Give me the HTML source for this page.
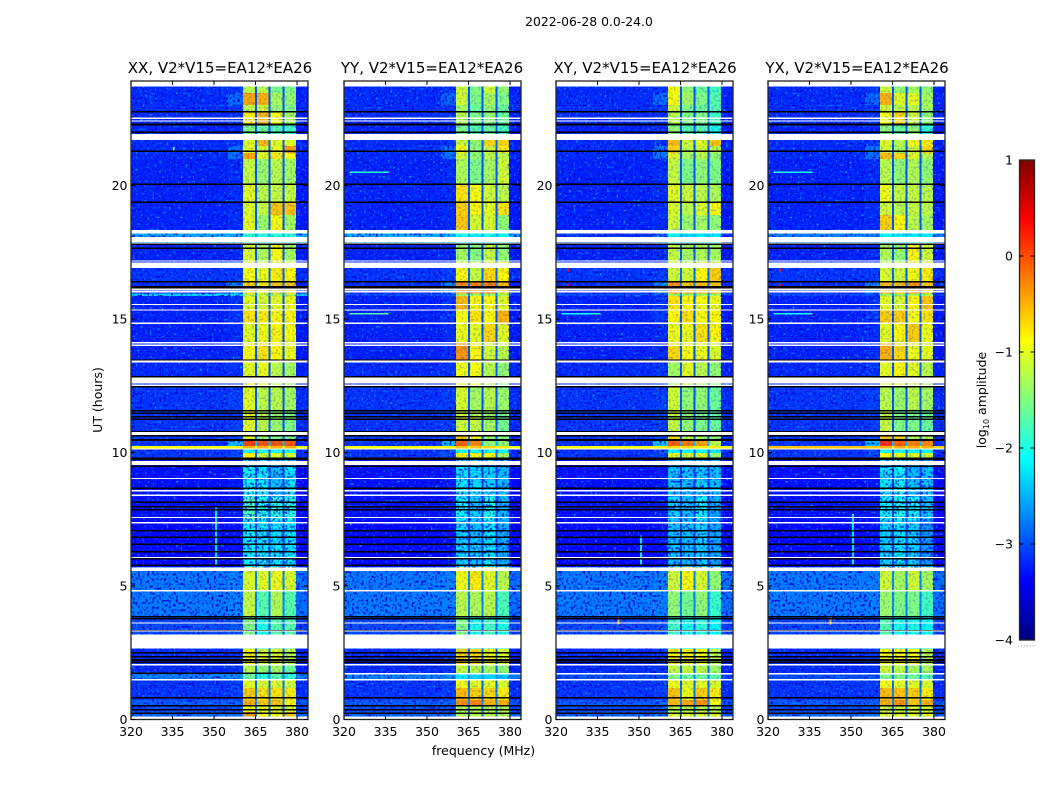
<!DOCTYPE html>
<html lang="en">
<head>
<meta charset="utf-8">
<title>2022-06-28 amplitude waterfall</title>
<style>
html,body{margin:0;padding:0;background:#fff;}
svg{display:block;}
text{font-family:"DejaVu Sans","Liberation Sans",sans-serif;fill:#000;}
</style>
</head>
<body>
<svg id="figure" xmlns="http://www.w3.org/2000/svg" width="1050" height="800" viewBox="0 0 1050 800">
  <defs>
    <filter id="speckle-dark" x="0" y="0" width="100%" height="100%" color-interpolation-filters="sRGB">
      <feTurbulence type="fractalNoise" baseFrequency="0.42" numOctaves="1" seed="4"/>
      <feColorMatrix type="matrix" values="0 0 0 0 0  0 0 0 0 0.04  0 0 0 0 0.85  5 0 0 0 -2.45"/>
    </filter>
    <filter id="speckle-light" x="0" y="0" width="100%" height="100%" color-interpolation-filters="sRGB">
      <feTurbulence type="fractalNoise" baseFrequency="0.42" numOctaves="1" seed="11"/>
      <feColorMatrix type="matrix" values="0 0 0 0 0  0 0 0 0 0.62  0 0 0 0 1  0 5 0 0 -3.0"/>
    </filter>
  </defs>
  <rect x="0" y="0" width="1050" height="800" fill="#fff"/>
  <text x="589" y="26" text-anchor="middle" font-size="12.4">2022-06-28 0.0-24.0</text>
  <text x="220" y="73" text-anchor="middle" font-size="15">XX, V2*V15=EA12*EA26</text>
  <text x="432" y="73" text-anchor="middle" font-size="15">YY, V2*V15=EA12*EA26</text>
  <text x="645" y="73" text-anchor="middle" font-size="15">XY, V2*V15=EA12*EA26</text>
  <text x="857" y="73" text-anchor="middle" font-size="15">YX, V2*V15=EA12*EA26</text>
  <text transform="translate(102,400) rotate(-90)" text-anchor="middle" font-size="12.5">UT (hours)</text>
  <text x="483.500" y="755" text-anchor="middle" font-size="12.5">frequency (MHz)</text>
  <g id="panel-xx"></g>
  <g id="panel-yy"></g>
  <g id="panel-xy"></g>
  <g id="panel-yx"></g>
  <g id="colorbar"></g>
  <text transform="translate(986,400) rotate(-90)" text-anchor="middle" font-size="12.500">log<tspan font-size="8" dy="3">10</tspan><tspan dy="-3"> amplitude</tspan></text>
  <line x1="1018" y1="646" x2="1035" y2="646" stroke="#999" stroke-width="1" stroke-dasharray="1 2"/>
</svg>
<script>
// Axis ticks
const xTicks = [320, 335, 350, 365, 380];
const yTicks = [0, 5, 10, 15, 20];
const cbarTicks = [1, 0, -1, -2, -3, -4];

// Frequency bands (MHz)
const bandEdges = [[360.4, 364.8], [365.5, 369.7], [370.4, 374.7], [375.5, 379.6]];

// UT (hours) at the top of each time row, top of plot to bottom
const rowTops = [23.70,23.46,23.01,22.75,22.27,21.70,21.48,21.22,20.99,20.02,19.34,18.90,18.33,17.85,17.13,16.39,15.96,15.86,15.34,14.85,14.14,13.46,12.49,11.59,10.77,10.45,10.24,10.13,9.98,9.79,8.33,7.47,5.71,4.85,3.84,2.64,2.04,1.74,1.48,1.18,0.73,0.51,0.28];

// log10 amplitude: shared background, near-band shoulder and band-gap level per row
const bgLevels = [-3.15,-3.15,-3.15,-3.15,-3.2,-3.15,-3.15,-3.15,-3.2,-3.2,-3.2,-3.2,-2.5,-3.2,-3.1,-3.15,-3.0,-3.2,-3.2,-3.2,-3.2,-3.15,-3.1,-3.1,-3.1,-3.1,-0.9,-3.1,-3.1,-3.3,-3.3,-3.35,-2.75,-2.75,-3.0,-3.15,-3.15,-2.7,-3.1,-3.1,-2.9,-3.0,-2.85];
const nearLevels = [-3.1,-2.85,-3.1,-3.1,-3.15,-3.1,-2.8,-2.8,-3.15,-3.15,-3.15,-3.15,-2.45,-3.15,-3.05,-2.7,-2.9,-3.1,-3.1,-3.15,-3.15,-3.1,-3.05,-3.05,-3.0,-2.4,-0.85,-3.0,-3.0,-3.25,-3.25,-3.3,-2.72,-2.72,-2.95,-3.1,-3.1,-2.65,-3.05,-3.05,-2.85,-2.95,-2.8];
const gapLevels = [-2.95,-2.95,-2.95,-2.95,-2.95,-2.85,-2.95,-2.95,-2.95,-2.95,-2.95,-2.95,-2.5,-2.95,-2.85,-2.75,-2.6,-2.95,-2.95,-2.95,-2.95,-2.95,-2.95,-2.95,-2.85,-2.4,-1.0,-2.95,-2.85,-3.1,-3.05,-3.1,-2.7,-2.7,-2.95,-2.85,-2.85,-2.6,-2.85,-2.75,-2.65,-2.85,-2.75];

// log10 amplitude of the four bands per row; optional fifth value overrides the background
const xxBands = [[-1.2,-1.2,-1.5,-1.5],[-.45,-.5,-1.3,-1.4],[-1.2,-1.1,-1.4,-1.5],[-.8,-.55,-.9,-1.3],[-1.5,-1.6,-1.7,-1.8],[-1.0,-.55,-1.0,-1.0],[-1.0,-1.1,-1.0,-.4],[-.45,-1.0,-.8,-.9],[-1.15,-1.35,-1.2,-1.3],[-1.0,-1.2,-1.15,-1.15],[-1.05,-1.15,-.6,-.6],[-1.0,-1.35,-.9,-1.3],[-1.9,-1.9,-1.9,-1.9],[-1.05,-1.25,-.9,-1.3],[-.9,-.95,-.8,-.85],[-.65,-.8,-.6,-.6],[-1.2,-1.2,-1.2,-1.2,-2.3],[-1.0,-1.05,-1.0,-.95],[-.75,-.8,-.85,-.85],[-1.0,-.95,-.85,-.9],[-.9,-.75,-.85,-.95],[-1.0,-.95,-1.2,-1.3],[-1.0,-1.2,-1.2,-1.3],[-1.0,-1.2,-1.35,-1.5],[-1.0,-1.3,-1.5,-1.5],[.05,-.05,-.05,-.05],[-.5,-.5,-.5,-.5],[-2.0,-2.0,-2.0,-2.0],[-.85,-1.1,-1.0,-1.1],[-2.1,-2.2,-2.4,-2.2],[-1.75,-2.0,-1.95,-1.95],[-2.1,-2.2,-2.2,-2.2],[-1.05,-1.0,-.95,-1.05],[-1.15,-1.7,-1.25,-1.7],[-1.5,-2.0,-1.7,-1.7],[-.85,-1.05,-1.0,-1.2],[-1.2,-1.4,-1.3,-1.6],[-1.6,-1.9,-1.7,-1.9],[-1.0,-1.05,-1.05,-1.1],[-.65,-.75,-.75,-.8],[-.5,-.6,-.6,-.85],[-.9,-1.0,-1.0,-1.0],[-.4,-.9,-.9,-.6]];
const yyBands = [[-1.1,-1.5,-1.1,-1.4],[-1.1,-1.5,-1.3,-1.5],[-1.3,-1.6,-1.4,-1.6],[-1.2,-1.5,-1.4,-1.6],[-1.5,-1.7,-1.6,-1.8],[-1.1,-1.4,-.7,-.7],[-.9,-1.4,-1.1,-.8],[-1.1,-1.4,-1.2,-1.2],[-1.25,-1.5,-1.3,-1.1],[-.75,-.9,-1.1,-1.2],[-.65,-.85,-1.0,-.75],[-.6,-1.05,-1.05,-1.4],[-2.0,-2.1,-2.0,-2.1],[-1.3,-1.45,-1.15,-1.4],[-.85,-1.15,-.7,-.85],[-.3,-.3,-.25,-.55],[-1.3,-1.3,-1.3,-1.3],[-.55,-.85,-.85,-1.0],[-.9,-.75,-.85,-.5],[-.95,-1.0,-.7,-1.0],[-.35,-.85,-1.1,-1.2],[-.95,-.9,-1.2,-1.4],[-1.05,-1.3,-1.2,-1.35],[-1.1,-1.15,-1.3,-1.55],[-.6,-.9,-1.4,-1.5],[-.1,-.3,-1.4,-1.4],[-.6,-.6,-.7,-.8],[-2.0,-2.0,-2.0,-2.1],[-.85,-.9,-.9,-1.3],[-2.2,-2.25,-2.3,-2.4],[-2.1,-2.35,-2.0,-2.4],[-2.3,-2.4,-2.2,-2.5],[-.95,-.8,-1.0,-1.2],[-1.2,-1.25,-1.2,-1.75],[-1.5,-2.0,-1.8,-2.0],[-.7,-.7,-.9,-1.05],[-1.15,-1.2,-1.3,-1.4],[-2.2,-2.3,-2.3,-2.4],[-.9,-1.0,-1.0,-1.05],[-.55,-.65,-.7,-.8],[-.35,-.25,-.5,-.5],[-1.25,-1.25,-1.25,-1.25],[-1.2,-1.2,-1.2,-1.2]];
const xyBands = [[-.9,-1.4,-1.6,-1.8],[-.9,-1.3,-1.5,-1.7],[-1.1,-1.5,-1.6,-1.7],[-1.2,-1.5,-1.5,-1.8],[-1.4,-1.7,-1.7,-2.0],[-.55,-1.1,-1.0,-.6],[-.7,-1.2,-1.1,-1.2],[-1.0,-1.3,-1.2,-1.4],[-1.15,-1.5,-1.4,-1.5],[-1.0,-1.1,-1.2,-1.25],[-1.05,-1.2,-1.05,-.9],[-1.1,-1.35,-1.3,-1.4],[-2.1,-2.3,-2.2,-2.2,-3.1],[-1.15,-1.3,-1.25,-1.3],[-1.1,-1.1,-.85,-.65],[-.35,-.6,-.55,-.6],[-1.3,-1.3,-1.3,-1.3],[-.75,-.85,-.9,-.95],[-.85,-.75,-.9,-.85],[-.95,-.95,-.75,-.85],[-.7,-.9,-.95,-1.05],[-1.3,-1.0,-1.2,-1.4],[-1.1,-1.4,-1.4,-1.6],[-1.15,-1.4,-1.5,-1.6],[-.7,-1.2,-1.3,-1.4],[-.1,-.25,-.4,-1.2],[-.7,-.7,-.8,-.8],[-2.1,-2.1,-2.1,-2.2],[-1.0,-1.1,-1.0,-1.4],[-2.4,-2.4,-2.3,-2.4],[-2.3,-2.4,-2.1,-2.5],[-2.4,-2.4,-2.3,-2.5],[-1.1,-.85,-1.05,-1.4],[-1.4,-1.55,-1.4,-1.85],[-1.8,-2.0,-1.9,-2.1],[-.8,-.85,-.9,-1.2],[-1.15,-1.15,-1.2,-1.35],[-1.5,-1.6,-1.6,-1.7,-2.95],[-.95,-1.0,-1.0,-1.05],[-.6,-.95,-.65,-.8],[-.55,-.45,-.35,-.9],[-1.2,-1.2,-1.2,-1.2],[-1.0,-1.0,-1.0,-1.0]];
const yxBands = [[-1.1,-1.4,-1.3,-1.4],[-.5,-1.0,-1.0,-1.3],[-1.1,-1.2,-1.2,-1.3],[-.9,-.7,-1.1,-1.4],[-1.4,-1.6,-1.4,-1.9],[-1.0,-1.2,-.9,-.8],[-1.1,-1.3,-1.1,-.7],[-.55,-.7,-1.0,-1.2],[-1.2,-1.4,-1.25,-1.4],[-.95,-1.15,-1.15,-1.2],[-1.1,-1.2,-1.15,-1.2],[-.65,-.85,-1.2,-1.3],[-2.1,-2.2,-2.2,-2.2,-2.7],[-1.25,-1.4,-.85,-1.1],[-1.05,-1.1,-.9,-.8],[-.55,-.55,-.35,-.6],[-1.3,-1.3,-1.3,-1.3,-3.0],[-1.0,-1.05,-.85,-.6],[-.65,-.65,-.9,-.75],[-1.0,-.85,-.65,-.95],[-.5,-.7,-.95,-1.0],[-1.0,-.85,-1.0,-1.2],[-1.2,-1.35,-1.2,-1.3],[-1.15,-1.5,-1.5,-1.6],[-.6,-.7,-1.2,-1.2],[.15,-.1,-.25,-.3],[-.5,-.5,-.5,-.5,-.6],[-2.0,-2.0,-2.1,-2.1],[-.9,-1.0,-1.0,-1.1],[-2.2,-2.1,-2.4,-2.4],[-2.1,-2.0,-2.1,-2.4],[-2.3,-2.2,-2.3,-2.6],[-1.1,-1.3,-1.1,-1.3],[-1.35,-1.5,-1.5,-1.8],[-1.7,-2.0,-2.0,-2.1],[-.85,-.9,-.9,-1.2],[-1.1,-1.2,-1.3,-1.3],[-1.5,-1.5,-1.6,-1.7,-2.95],[-.9,-1.0,-1.0,-1.05],[-.55,-.6,-.65,-.8],[-.5,-.35,-.6,-.5],[-1.1,-1.1,-1.1,-1.1],[-1.0,-1.0,-1.0,-1.0]];

// Flagged time ranges shared by all panels (hours)
const whiteFlags = [[23.91,23.70],[22.54,22.49],[22.44,22.39],[21.93,21.70],[18.33,18.21],[18.08,17.88],[17.87,17.82],[17.20,17.15],[17.11,16.91],[16.14,16.09],[16.07,16.00],[15.57,15.52],[15.36,15.31],[14.86,14.81],[14.14,14.09],[14.04,13.99],[13.44,13.37],[12.80,12.59],[12.55,12.50],[10.77,10.66],[10.15,10.11],[9.69,9.53],[9.05,9.00],[8.59,8.54],[8.43,8.38],[7.59,7.54],[7.40,7.35],[6.09,6.04],[5.69,5.56],[4.85,4.80],[3.64,3.59],[3.34,3.29],[3.18,2.65],[2.08,2.03],[1.74,1.69],[1.51,1.46],[0.11,0]];
const blackLines = [22.76,22.30,22.27,21.99,21.28,20.04,19.37,17.81,17.65,16.40,16.21,16.18,13.45,12.84,12.47,11.57,11.47,11.34,11.25,10.78,10.63,10.47,9.78,9.74,9.48,8.66,8.13,7.97,7.85,7.07,6.82,6.56,6.28,6.02,5.78,3.85,3.78,3.33,2.50,2.35,2.23,2.14,0.82,0.52,0.36,0.23];
const xxExtraBlack = [1.73];

// Narrowband features: panel, start MHz, end MHz, top hour, bottom hour, log10 amplitude
const spurPanels = [0,1,1,2,3,3,2,3,2,3,0,2,3,2,3,0];
const spurStartMHz = [350.3,322,322,322,322,322,324,324,324,324,350.3,350.3,350.3,342.2,342.2,335.2];
const spurEndMHz = [351,336,336,336,336,336,324.7,324.7,324.7,324.7,351,351,351,342.9,342.9,335.8];
const spurTopHours = [8,20.53,15.22,15.22,20.53,15.22,16.9,16.9,16.32,16.32,8,6.9,7.7,3.85,3.85,21.45];
const spurBottomHours = [5.8,20.47,15.16,15.16,20.47,15.16,16.78,16.78,16.2,16.2,5.8,5.8,5.8,3.55,3.55,21.3];
const spurLevels = [-2.2,-1.9,-1.7,-2.0,-2.0,-2.0,.3,.3,.3,.3,-2.2,-2.2,-2.2,-.5,-.5,-1.5];

const panelKeys = ['xx', 'yy', 'xy', 'yx'];
const panelBands = [xxBands, yyBands, xyBands, yxBands];
const panelLeft = [131, 344, 556, 768];
const plotWidth = 177;
const plotTop = 81;
const plotBottom = 719.5;
const mhzMin = 320;
const mhzPerPixel = 1 / 2.767;
const lineRow = 26;
const quietRowTop = 29;
const quietRowEnd = 32;
const SVG_NS = 'http://www.w3.org/2000/svg';

function yScale(hour) {
  return 719.5 - 26.7 * hour;
}
function xScale(mhz, left) {
  return left + (mhz - mhzMin) / mhzPerPixel;
}
function clip01(v) {
  return Math.max(0, Math.min(1, v));
}
function jet(level) {
  const v = (level + 4) / 5;
  const r = clip01(Math.min(4 * v - 1.5, -4 * v + 4.5));
  const g = clip01(Math.min(4 * v - 0.5, -4 * v + 3.5));
  const b = clip01(Math.min(4 * v + 0.5, -4 * v + 2.5));
  return 'rgb(' + Math.round(r * 255) + ',' + Math.round(g * 255) + ',' + Math.round(b * 255) + ')';
}
function makeRect(parent, x, y, w, h, fill) {
  const el = document.createElementNS(SVG_NS, 'rect');
  el.setAttribute('x', x.toFixed(2));
  el.setAttribute('y', y.toFixed(2));
  el.setAttribute('width', w.toFixed(2));
  el.setAttribute('height', h.toFixed(2));
  el.setAttribute('fill', fill);
  el.setAttribute('shape-rendering', 'crispEdges');
  parent.appendChild(el);
  return el;
}
function makeLine(parent, x1, y1, x2, y2, width) {
  const el = document.createElementNS(SVG_NS, 'line');
  el.setAttribute('x1', x1);
  el.setAttribute('y1', y1);
  el.setAttribute('x2', x2);
  el.setAttribute('y2', y2);
  el.setAttribute('stroke', '#000');
  el.setAttribute('stroke-width', width);
  parent.appendChild(el);
  return el;
}
function makeText(parent, x, y, anchor, content) {
  const el = document.createElementNS(SVG_NS, 'text');
  el.setAttribute('x', x);
  el.setAttribute('y', y);
  el.setAttribute('text-anchor', anchor);
  el.setAttribute('font-size', '12.5');
  el.textContent = content;
  parent.appendChild(el);
  return el;
}

function drawCell(group, left, f0, f1, top, bottom, level) {
  const x0 = xScale(f0, left);
  const x1 = xScale(f1, left);
  const y0 = yScale(top);
  const y1 = yScale(bottom);
  const cell = makeRect(group, x0, y0, x1 - x0, y1 - y0, jet(level));
  
  
}

function drawTexture(root, key, x, y, w, h, opacity) {
  const dark = makeRect(root, x, y, w, h, '#000');
  dark.setAttribute('filter', 'url(#speckle-dark)');
  dark.setAttribute('opacity', opacity);
  
  
  const light = makeRect(root, x, y, w, h, '#000');
  light.setAttribute('filter', 'url(#speckle-light)');
  light.setAttribute('opacity', opacity);
  
  
}

function drawRow(group, left, bands, r) {
  const top = rowTops[r];
  const bottom = r + 1 < rowTops.length ? rowTops[r + 1] : 0;
  const row = bands[r];
  const bg = row.length > 4 ? row[4] : bgLevels[r];
  const near = row.length > 4 ? Math.max(row[4], nearLevels[r] - 0.4) : nearLevels[r];
  const gap = gapLevels[r];
  drawCell(group, left, 320, 355, top, bottom, bg);
  drawCell(group, left, 355, bandEdges[0][0], top, bottom, near);
  bandEdges.forEach(function (edge, b) {
    drawCell(group, left, edge[0], edge[1], top, bottom, row[b]);
    if (b < 3) {
      drawCell(group, left, edge[1], bandEdges[b + 1][0], top, bottom, gap);
    }
  });
  drawCell(group, left, bandEdges[3][1], 384, top, bottom, bg - 0.05);
}

function drawPanel(index) {
  const left = panelLeft[index];
  const key = panelKeys[index];
  const bands = panelBands[index];
  const root = document.getElementById('panel-' + key);

  const cells = document.createElementNS(SVG_NS, 'g');
  
  
  root.appendChild(cells);

  rowTops.forEach(function (top, r) {
    drawRow(cells, left, bands, r);
  });

  const topY = yScale(rowTops[0]);
  const h = plotBottom - topY;
  const bandStart = xScale(bandEdges[0][0], left);
  const bandEnd = xScale(bandEdges[3][1], left);
  drawTexture(root, key, left, topY, bandStart - left, h, 1);
  drawTexture(root, key, bandStart, topY, bandEnd - bandStart, h, 0.22);
  drawTexture(root, key, bandEnd, topY, left + plotWidth - bandEnd, h, 1);
  const quietTop = yScale(rowTops[quietRowTop]);
  const quietBottom = yScale(rowTops[quietRowEnd]);
  drawTexture(root, key, bandStart, quietTop, bandEnd - bandStart, quietBottom - quietTop, 0.75);

  drawRow(root, left, bands, lineRow);

  spurPanels.forEach(function (p, i) {
    if (p !== index) return;
    drawCell(root, left, spurStartMHz[i], spurEndMHz[i], spurTopHours[i], spurBottomHours[i], spurLevels[i]);
  });

  blackLines.forEach(function (hour) {
    const line = makeRect(root, left, yScale(hour) - 0.8, plotWidth, 1.6, '#000');
    
    
  });
  if (index === 0) {
    xxExtraBlack.forEach(function (hour) {
      const extra = makeRect(root, left, yScale(hour) - 0.8, plotWidth, 1.6, '#000');
      
      
    });
  }
  whiteFlags.forEach(function (range) {
    if (index === 0 && range[0] === 1.74) return;
    const y0 = Math.max(yScale(range[0]), plotTop);
    const y1 = Math.min(yScale(range[1]), plotBottom);
    const flag = makeRect(root, left, y0, plotWidth, y1 - y0, '#fff');
    
    
  });

  const frame = makeRect(root, left, plotTop, plotWidth, plotBottom - plotTop, 'none');
  frame.setAttribute('stroke', '#222');
  frame.setAttribute('stroke-width', '1.3');
  frame.removeAttribute('shape-rendering');
  
  

  xTicks.forEach(function (tick) {
    const x = xScale(tick, left);
    const t1 = makeLine(root, x, plotBottom, x, plotBottom - 4, 1);
    
    
    const t2 = makeLine(root, x, plotTop, x, plotTop + 4, 1);
    
    
    const label = makeText(root, x, 736, 'middle', String(tick));
    
    
  });
  yTicks.forEach(function (tick) {
    const y = yScale(tick);
    const t1 = makeLine(root, left, y, left + 4, y, 1);
    
    
    const t2 = makeLine(root, left + plotWidth, y, left + plotWidth - 4, y, 1);
    
    
    const label = makeText(root, left - 3.5, y + 4.5, 'end', String(tick));
    
    
  });
}

function drawColorbar() {
  const root = document.getElementById('colorbar');
  const x = 1019.5;
  const w = 15;
  const top = 160;
  const height = 480;
  function levelY(level) {
    return top + (1 - level) / 5 * height;
  }
  for (let y = 0; y < height; y += 2) {
    const level = 1 - (y + 1) / height * 5;
    const seg = makeRect(root, x, top + y, w, 2.2, jet(level));
    
    
  }
  const frame = makeRect(root, x, top, w, height, 'none');
  frame.setAttribute('stroke', '#222');
  frame.setAttribute('stroke-width', '1.3');
  frame.removeAttribute('shape-rendering');
  
  
  cbarTicks.forEach(function (tick) {
    const y = levelY(tick);
    if (tick !== 1 && tick !== -4) {
      const left = makeLine(root, x, y, x + 4, y, 1);
      
      
      const right = makeLine(root, x + w, y, x + w - 4, y, 1);
      
      
    }
    const text = tick < 0 ? '\u2212' + Math.abs(tick) : String(tick);
    const label = makeText(root, 1013, y + 4.5, 'end', text);
    
    
  });
}

panelKeys.forEach(function (key, index) {
  drawPanel(index);
});
drawColorbar();
</script>
</body>
</html>
